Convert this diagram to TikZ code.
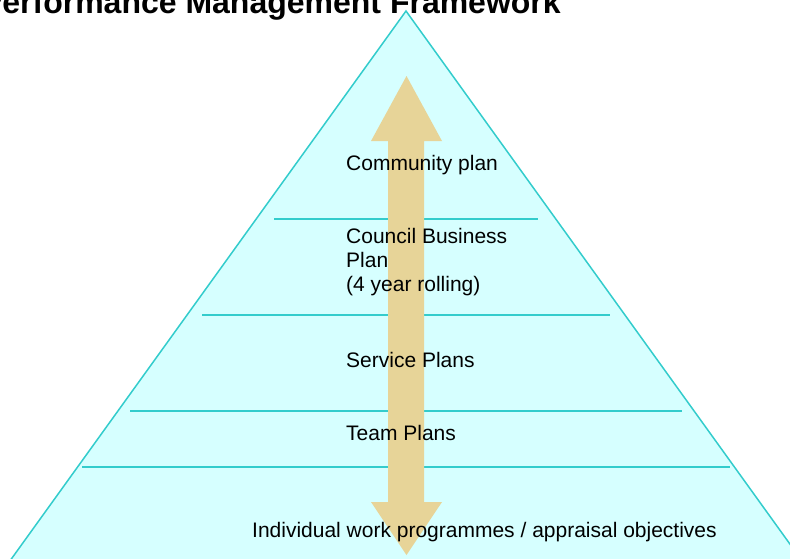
\documentclass[tikz,border=0pt]{standalone}
\usepackage{fontspec}
\setmainfont{Liberation Sans}
\definecolor{layerfill}{RGB}{214,255,255}
\definecolor{layerline}{RGB}{51,204,204}
\definecolor{arrowtan}{RGB}{231,212,152}

\begin{document}
\begin{tikzpicture}[x=1pt,y=-1pt,
		layertext/.style={anchor=base west, inner sep=0pt, align=left, font=\fontsize{21}{24}\selectfont},
		divider/.style={draw=layerline, line width=2pt},
		pyramid/.style={fill=layerfill, draw=layerline, line width=1.5pt},
		bothway/.style={fill=arrowtan, draw=none}]
		\useasboundingbox (0,0) rectangle (790,558);
		\clip (0,0) rectangle (790,558);

		% Define the pyramid
		\coordinate (apex) at (406,11);
		\coordinate (baseL) at (0.5,574);
		\coordinate (baseR) at (811.5,574);
		\draw[pyramid] (apex) -- (baseR) -- (baseL) -- cycle;

		% Layer dividers
		\draw[divider] (274,219) -- (538,219);
		\draw[divider] (202,315) -- (610,315);
		\draw[divider] (130,411) -- (682,411);
		\draw[divider] (82,467) -- (730,467);

		% Two-way arrow
		\fill[bothway] (406.5,76) -- (442,141) -- (424,141) -- (424,502) -- (442,502)
			-- (406.5,555) -- (371,502) -- (388,502) -- (388,141) -- (371,141) -- cycle;

		% Title and layer labels
		\node[anchor=base east, inner sep=0pt, font=\fontsize{32}{37}\selectfont\bfseries] (title) at (561,13) {Performance Management Framework};
		\node[layertext] (community) at (346,170) {Community plan};
		\node[layertext] (council) at (346,291) {Council Business\\Plan\\(4 year rolling)};
		\node[layertext] (service) at (346,367) {Service Plans};
		\node[layertext] (team) at (346,440) {Team Plans};
		\node[layertext] (individual) at (252,537) {Individual work programmes / appraisal objectives};
	\end{tikzpicture}
\end{document}
